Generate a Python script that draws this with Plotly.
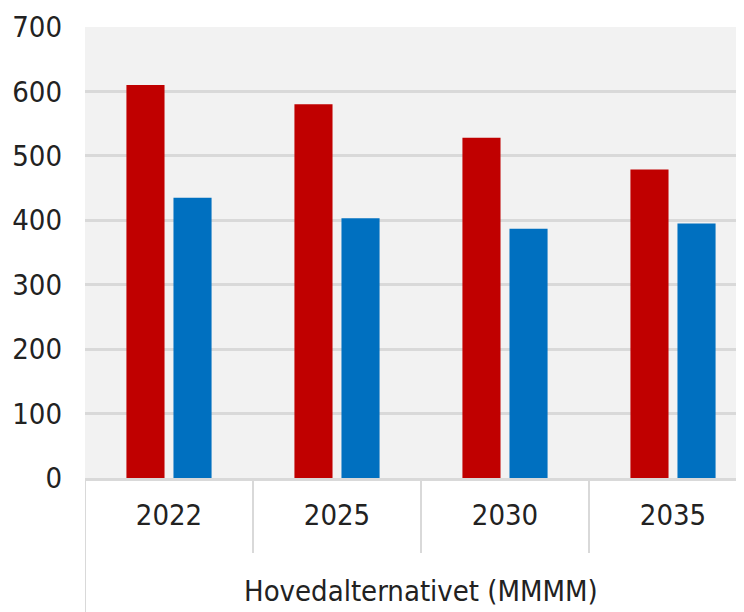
import plotly.graph_objects as go

years = ["2022", "2025", "2030", "2035"]
red_values = [610, 580, 528, 479]
blue_values = [435, 403, 387, 395]
y_ticks = [0, 100, 200, 300, 400, 500, 600, 700]
group_label = "Hovedalternativet (MMMM)"

FONT = "DejaVu Sans Condensed, sans-serif"
W, H = 744, 604
M_L, M_T, M_B = 77, 19, 134
PLOT_H = H - M_T - M_B
CAT_PX = 168.0

fig = go.Figure()
fig.add_trace(go.Bar(x=years, y=red_values, marker_color="#c00000",
                     marker_line_width=0, name="A"))
fig.add_trace(go.Bar(x=years, y=blue_values, marker_color="#0070c0",
                     marker_line_width=0, name="B"))

fig.update_layout(
    width=W, height=H,
    margin=dict(l=M_L, r=0, t=M_T, b=M_B, pad=0),
    paper_bgcolor="white",
    plot_bgcolor="#f2f2f2",
    barmode="group",
    bargap=0.44,
    bargroupgap=0.19,
    showlegend=False,
    font=dict(family=FONT, size=29, color="#222222"),
)
fig.update_yaxes(
    range=[0, 700], tickvals=y_ticks, showgrid=True, gridcolor="#d9d9d9",
    gridwidth=3, zeroline=False, showline=False, ticks="",
    ticklabelstandoff=22, automargin=False, fixedrange=True,
)
fig.update_xaxes(
    type="category",
    range=[-0.5, -0.5 + (W - M_L) / CAT_PX],
    showline=True, linecolor="#d9d9d9", linewidth=3,
    ticks="", ticklabelstandoff=9,
    showgrid=False, automargin=False,
)

# divider lines below the axis
for b in [0.5, 1.5, 2.5]:
    fig.add_shape(type="line", xref="x", yref="paper", x0=b, x1=b,
                  y0=0, y1=-75 / PLOT_H, line=dict(color="#d9d9d9", width=2))
fig.add_shape(type="line", xref="x", yref="paper", x0=-0.5, x1=-0.5,
              y0=0, y1=-140 / PLOT_H, line=dict(color="#d9d9d9", width=2))

fig.add_annotation(text=group_label, xref="x", yref="paper", x=1.5,
                   y=-113 / PLOT_H, yanchor="middle", showarrow=False,
                   font=dict(family=FONT, size=29, color="#222222"))

fig.write_html("out.html",
               post_script="document.body.style.overflow='hidden';")
